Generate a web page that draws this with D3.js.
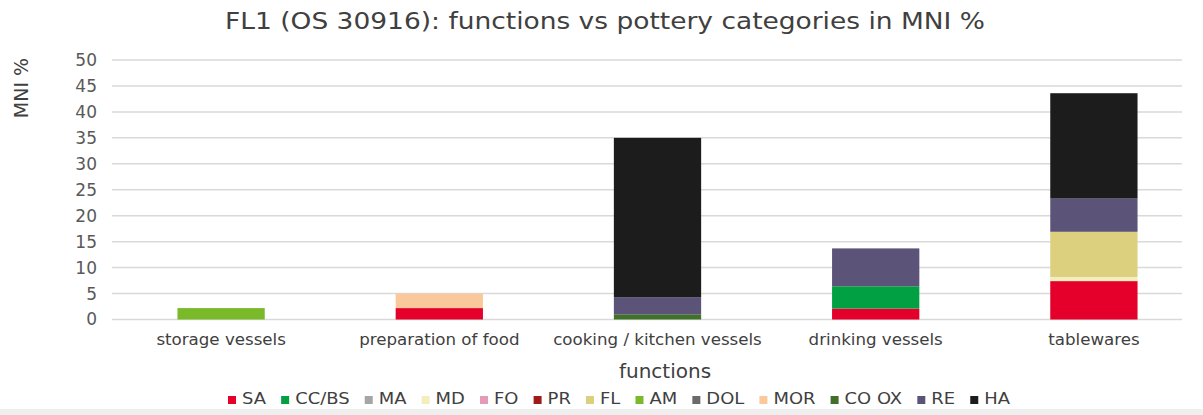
<!DOCTYPE html>
<html>
<head>
<meta charset="utf-8">
<script src="https://cdn.jsdelivr.net/npm/d3@7"></script>
<style>
  html, body { margin: 0; padding: 0; background: #ffffff; }
  svg { display: block; font-family: "DejaVu Sans", Verdana, sans-serif; }
</style>
</head>
<body>
<svg id="chart" width="1203" height="415"></svg>
<script>
// Function categories on the x axis
const categories = ["storage vessels", "preparation of food", "cooking / kitchen vessels", "drinking vessels", "tablewares"];

// Pottery categories (stack order, bottom to top)
const seriesNames = ["SA", "CC/BS", "MA", "MD", "FO", "PR", "FL", "AM", "DOL", "MOR", "CO OX", "RE", "HA"];
const seriesColors = ["#e4002b", "#00a043", "#a6a6a6", "#f3eebd", "#e59ab8", "#9e1b1b", "#dccf7d", "#7aba2a", "#6b6b6b", "#f9c99b", "#41702a", "#5c5478", "#1c1c1c"];

// MNI % per function category, one array per pottery category
const SA    = [0,   2.2, 0,    2.1, 7.4];
const CC_BS = [0,   0,   0,    4.3, 0];
const MA    = [0,   0,   0,    0,   0];
const MD    = [0,   0,   0,    0,   0.8];
const FO    = [0,   0,   0,    0,   0];
const PR    = [0,   0,   0,    0,   0];
const FL    = [0,   0,   0,    0,   8.7];
const AM    = [2.2, 0,   0,    0,   0];
const DOL   = [0,   0,   0,    0,   0];
const MOR   = [0,   2.8, 0,    0,   0];
const CO_OX = [0,   0,   1.0,  0,   0];
const RE    = [0,   0,   3.3,  7.3, 6.4];
const HA    = [0,   0,   30.7, 0,   20.3];

const yTicks = [0, 5, 10, 15, 20, 25, 30, 35, 40, 45, 50];

const seriesValues = [SA, CC_BS, MA, MD, FO, PR, FL, AM, DOL, MOR, CO_OX, RE, HA];

// Build row table for d3.stack
const rows = categories.map((c, i) => {
  const r = { category: c };
  seriesNames.forEach((s, k) => { r[s] = seriesValues[k][i]; });
  return r;
});

const svg = d3.select("#chart");
const W = 1203, H = 415;
const FONT = "\"DejaVu Sans\", Verdana, sans-serif";

// Widen text horizontally by a factor, keeping its anchor
function widen(sel, k) {
  sel.each(function () {
    const len = this.getComputedTextLength();
    d3.select(this)
      .attr("textLength", len * k)
      .attr("lengthAdjust", "spacingAndGlyphs");
  });
}

const x = d3.scaleBand()
  .domain(categories)
  .range([112, 1203])
  .paddingInner(0.6)
  .paddingOuter(0.3);

const y = d3.scaleLinear()
  .domain([0, 50])
  .range([319.5, 60]);

const color = d3.scaleOrdinal().domain(seriesNames).range(seriesColors);

// Title
svg.append("text")
  .attr("x", 605).attr("y", 29)
  .attr("text-anchor", "middle")
  .attr("font-size", 23)
  .attr("fill", "#404040")
  .text("FL1 (OS 30916): functions vs pottery categories in MNI %")
  .call(widen, 1.15);

// Gridlines
svg.append("g")
  .selectAll("line")
  .data(yTicks)
  .join("line")
  .attr("x1", 112).attr("x2", 1182)
  .attr("y1", d => y(d)).attr("y2", d => y(d))
  .attr("stroke", "#d9d9d9")
  .attr("stroke-width", 1.5);

// Y axis labels
const yAxis = d3.axisLeft(y).tickValues(yTicks).tickSize(0).tickPadding(0);
const gy = svg.append("g").attr("transform", "translate(97,0)").call(yAxis);
gy.select(".domain").remove();
gy.selectAll("text")
  .attr("font-size", 17)
  .attr("font-family", FONT)
  .attr("fill", "#595959");

// Y axis title
svg.append("text")
  .attr("transform", "translate(28,88) rotate(-90)")
  .attr("text-anchor", "middle")
  .attr("font-size", 19)
  .attr("fill", "#404040")
  .text("MNI %");

// Stacked bars
const stacked = d3.stack().keys(seriesNames)(rows);
svg.append("g")
  .selectAll("g")
  .data(stacked)
  .join("g")
  .attr("fill", d => color(d.key))
  .selectAll("rect")
  .data(d => d)
  .join("rect")
  .attr("x", d => x(d.data.category))
  .attr("width", x.bandwidth())
  .attr("y", d => y(d[1]))
  .attr("height", d => Math.max(0, y(d[0]) - y(d[1])));

// X axis labels
const xAxis = d3.axisBottom(x).tickSize(0).tickPadding(0);
const gx = svg.append("g").attr("transform", "translate(0,334)").call(xAxis);
gx.select(".domain").remove();
gx.selectAll("text")
  .attr("font-size", 16)
  .attr("font-family", FONT)
  .attr("fill", "#404040")
  .call(widen, 1.04);

// X axis title
svg.append("text")
  .attr("x", 665).attr("y", 378)
  .attr("text-anchor", "middle")
  .attr("font-size", 20)
  .attr("fill", "#404040")
  .text("functions");

// Legend: fixed text width factor, item spacing fills the row
const legendWidth = 782, legendCenter = 619;
const sq = 8, gapText = 6, textK = 1.12;
const legend = svg.append("g");
const items = legend.selectAll("g")
  .data(seriesNames)
  .join("g");
items.append("rect")
  .attr("width", sq).attr("height", sq)
  .attr("y", -8)
  .attr("fill", d => color(d));
const labels = items.append("text")
  .attr("x", sq + gapText).attr("y", 0)
  .attr("font-size", 16)
  .attr("fill", "#404040")
  .text(d => d);
const lens = labels.nodes().map(n => n.getComputedTextLength() * textK);
labels.attr("textLength", (d, i) => lens[i]).attr("lengthAdjust", "spacingAndGlyphs");
const n = seriesNames.length;
const gapItem = (legendWidth - n * (sq + gapText) - d3.sum(lens)) / (n - 1);
let cx = 0;
items.each(function (d, i) {
  d3.select(this).attr("transform", `translate(${cx},0)`);
  cx += sq + gapText + lens[i] + gapItem;
});
legend.attr("transform", `translate(${legendCenter - legendWidth / 2},404)`);

// Bottom strip
svg.append("rect")
  .attr("x", 0).attr("y", 409).attr("width", W).attr("height", 6)
  .attr("fill", "#efefef");
</script>
</body>
</html>
